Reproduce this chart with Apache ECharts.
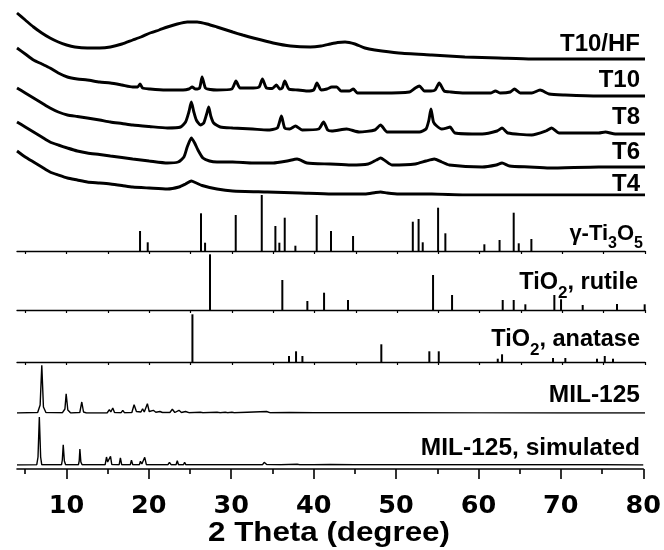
<!DOCTYPE html>
<html><head><meta charset="utf-8">
<script src="https://cdn.jsdelivr.net/npm/echarts@6/dist/echarts.min.js"></script>
<style>html,body{margin:0;padding:0;background:#fff}#c{width:664px;height:550px}</style>
</head><body><div id="c"></div>
<script>
// ---------- axis ----------
const xMin = 4, xMax = 80;
const xMajorTicks = [10, 20, 30, 40, 50, 60, 70, 80];
const xMinorTicks = [5, 15, 25, 35, 45, 55, 65, 75];
const xPanelTicks = [5, 10, 15, 20, 25, 30, 35, 40, 45, 50, 55, 60, 65, 70, 75, 80];
const xAxisTitle = '2 Theta (degree)';

// ---------- measured patterns (2θ, relative intensity above own baseline) ----------
const sampleNames = ['T10/HF', 'T10', 'T8', 'T6', 'T4'];
const stackOffsets = [136, 99, 61, 28, 0];

const T10HF = [[4,46],[5,39],[6,32],[7,26],[8,21],[9,17],[10,14],[11,12],[12.5,11],[14,11],[15.3,12],[16.7,15],[18,19],[19,22],[20.1,26],[21.2,29],[22.2,32],[23.4,35],[24.6,37],[25.8,37],[27,35],[28.2,32],[30.1,27],[31.3,24],[32.6,21],[35,16],[37.1,13],[39.5,12],[40.8,13],[41.9,15],[42.8,16.5],[43.7,17],[44.9,15],[46.1,11],[47.3,9],[50.2,6],[54.2,4],[58.2,2],[62.3,1],[66.3,0],[80,0]];

const T10 = [[4,48],[5,42],[6,36],[7,32],[8,28],[9,23],[10.1,19],[11.3,17],[12.5,16],[14,14],[15.3,13],[16.7,11],[18,9],[18.6,9],[18.9,12],[19.2,8],[20.1,7],[22,6],[24.1,6],[24.8,7],[25.2,9],[25.6,7],[26.1,8],[26.4,19],[26.8,8],[27.4,6.5],[28.2,6],[30.0,7],[30.5,15],[31.0,8],[32.6,8],[33.3,9],[33.7,17],[34.2,8],[34.9,7.5],[35.4,11],[35.8,7],[36.1,8],[36.4,15],[36.9,7],[38,6],[39.1,5],[39.9,6],[40.3,13],[40.8,6],[41.5,7],[42.1,9],[42.7,9],[43.2,5],[44.2,5],[44.7,7],[45.2,3],[48.2,3],[51.5,4],[52.2,8],[52.7,10],[53.3,5],[54.1,5],[54.6,6],[55.1,13],[55.7,5],[56.5,4],[58.2,3],[61.3,3],[61.9,5],[62.5,3],[63.7,4],[64.2,7],[64.9,3],[66.3,3],[67.3,6],[68.4,2],[70.3,1],[74.4,0],[80,0]];

const T8 = [[4,46],[5,41],[6,36],[7,31],[8,26],[9,22],[10.1,19],[11.3,17.5],[12.5,16],[14,14],[15.3,12],[16.7,10.5],[18,9],[20,7.5],[22.2,6],[23.8,7],[24.4,12],[24.8,22],[25.1,32],[25.4,22],[25.7,14],[26.2,9],[26.6,11],[26.95,20],[27.2,27],[27.45,18],[27.8,11],[28.6,7],[30.1,6],[32.5,5],[34.3,4],[35.5,6],[36.0,18],[36.4,6],[37.0,5],[37.7,8],[38.5,4],[40.5,5],[41.1,12],[41.6,4],[42.1,3],[43.9,5],[45.4,2],[47.3,4],[48.0,9],[48.8,2],[52.7,2],[53.5,5],[53.85,14],[54.1,25],[54.4,12],[54.8,8],[55.4,5],[56.0,6],[56.4,7],[57.0,1],[60.3,0],[62.1,3],[62.7,6],[63.4,1],[66.3,-1],[68.0,3],[68.7,6],[69.6,1],[74.4,1],[75.2,2],[76.4,0],[80,0]];

const T6 = [[4,45],[5,40],[6,35],[7,30],[8,25],[9,22],[10.1,19],[11.3,16],[12.5,14],[14,12.5],[15.3,11],[16.7,9.5],[18,8],[20,6],[22.2,4],[23.5,5],[24.2,10],[24.6,20],[25.1,29],[25.5,24],[25.9,17],[26.5,9],[27.3,6],[28.2,5],[30.1,5],[32.6,4],[35.0,4],[36.7,6],[37.9,8],[39.1,4],[41.9,3],[44.4,2],[46.5,3],[47.5,7],[48.0,9],[48.6,6],[49.4,2],[52.2,3],[53.5,6],[54.5,8],[55.4,5],[56.3,2],[60.3,0],[62,2],[62.7,4],[63.6,1],[66,0],[68.4,-1],[74.4,0],[80,0]];

const T4 = [[4,44],[5,38],[6,33],[7,28],[8,23],[9,20],[10.1,17],[11.3,15],[12.5,13],[14,12],[15.3,11],[16.7,9.5],[18,8],[20,7],[22.2,6],[23.6,8],[24.4,11],[25.1,14],[25.7,12],[26.4,9.5],[28.2,6],[30.1,4],[34.3,3],[38.3,2],[42.1,1],[46.1,1],[47.4,2.5],[48.0,3],[48.8,2],[50.2,1],[54.2,1],[58.2,0],[80,0]];

// ---------- reference stick patterns ----------
const gammaPos = [18.89,19.82,26.27,26.76,30.47,33.62,35.27,35.75,36.40,37.69,40.27,42.0,44.67,51.9,52.6,53.1,54.96,55.84,60.56,62.4,64.11,64.72,66.25];
const gammaInt = [20,8.7,37.7,8.3,36,56,25,8.3,33.3,5.3,36,20,15,29.3,32,8.7,43.3,17.7,6.7,11,38.3,7.7,12];

const rutilePos = [27.36,36.11,39.14,41.16,44.06,54.35,56.65,62.78,64.11,65.52,69.03,69.84,72.46,76.61,79.96];
const rutileInt = [55.7,30,9,17.3,10,35,15,10,10,5.7,15,10.7,5,6,5.7];

const anatasePos = [25.23,36.92,37.77,38.54,48.09,53.9,55.04,62.18,62.70,68.87,70.36,74.19,75.13,76.13];
const anataseInt = [47.7,6,10.7,6,17.7,10.7,10.7,3.3,7.7,4,4,3.3,6,3.3];

// ---------- MIL-125 patterns ----------
const MIL125 = [[4,0],[6.5,0.5],[6.8,8],[7.0,47.7],[7.2,6],[7.5,0.5],[9.5,0.3],[9.8,4],[9.95,19.3],[10.15,3],[10.5,0],[11.6,0.5],[11.84,11],[12.05,1],[12.4,0],[14.9,0],[15.18,3.3],[15.35,1],[15.59,5],[15.8,0.5],[16.6,0.3],[16.8,2.7],[17.0,0.3],[17.9,0.5],[18.17,8.3],[18.45,1.5],[19.0,1],[19.2,4.3],[19.4,1],[19.78,9.3],[20.0,1.5],[20.5,2.7],[20.8,0.8],[21.3,1.5],[21.6,0.5],[22.5,0.5],[22.8,3.7],[23.1,0.5],[23.6,2.7],[23.9,0.5],[24.4,1.5],[24.8,0.3],[26.2,0.8],[26.5,0.2],[28.2,0.8],[28.6,0.2],[29.2,0.8],[29.5,0.2],[30,0.8],[30.3,0.2],[34.2,1.5],[34.6,0.3],[37,0.5],[40,0.3],[45,0.4],[50,0.2],[60,0.1],[70,0],[80,0]];

const MIL125sim = [[4,0],[6.4,0.3],[6.55,8],[6.71,48],[6.87,8],[7.0,0.3],[9.4,0.2],[9.5,5],[9.61,20.3],[9.75,4],[9.9,0.2],[11.45,0.2],[11.55,4],[11.63,16],[11.75,3],[11.9,0.2],[14.7,0.3],[14.86,8],[15.0,3],[15.2,3],[15.35,8.7],[15.5,0.5],[16.4,0.3],[16.55,7],[16.7,0.3],[17.75,0.3],[17.89,4.7],[18.05,0.3],[18.85,0.3],[18.98,3.7],[19.15,1],[19.35,1],[19.5,7.7],[19.7,0.3],[20.8,0.2],[20.9,2],[21.05,0.2],[22.3,0.2],[22.5,2.7],[22.7,0.3],[23.3,0.3],[23.45,4.3],[23.6,0.3],[24.2,0.2],[24.34,2.7],[24.5,0.2],[26.0,0.2],[26.15,2],[26.3,0.2],[27.8,0.2],[28.0,1.2],[28.2,0.2],[29.7,0.2],[29.85,1.2],[30.0,0.2],[31.5,0.2],[31.7,1],[31.9,0.2],[33.8,0.3],[34.0,2.7],[34.3,0.5],[36,0.2],[38,0.8],[38.3,0.2],[40,0.3],[42,0.5],[45,0.2],[50,0.3],[55,0.2],[60,0.3],[65,0.2],[70,0.2],[75,0.2],[80,0]];

// ---------- labels ----------
const stickLabels = ['{m|γ-Ti}{s|3}{m|O}{s|5}', '{m|TiO}{s|2}{m|, rutile}', '{m|TiO}{s|2}{m|, anatase}'];
const milLabels = ['MIL-125', 'MIL-125, simulated'];

// ---------- build ----------
const FONT = '"Liberation Sans", Arial, Helvetica, sans-serif';
const TICKFONT = '"DejaVu Sans", "Liberation Sans", sans-serif';
const L = 17, W = 628;
const samples = [T10HF, T10, T8, T6, T4];
const stickSets = [[gammaPos, gammaInt], [rutilePos, rutileInt], [anatasePos, anataseInt]];

const grids = [
  {left: L, width: W, top: 10, height: 185},
  {left: L, width: W, top: 191, height: 60},
  {left: L, width: W, top: 250, height: 60},
  {left: L, width: W, top: 302, height: 60},
  {left: L, width: W, top: 353, height: 60},
  {left: L, width: W, top: 405, height: 60}
];
const yMaxes = [185, 60, 60, 60, 60, 60];

const hiddenX = i => ({type: 'value', gridIndex: i, min: xMin, max: xMax, show: false});
const panelX = i => ({
  type: 'value', gridIndex: i, min: xMin, max: xMax, position: 'bottom',
  axisLine: {show: true, onZero: false, lineStyle: {color: '#000', width: 1.3}},
  axisTick: {show: true, customValues: xPanelTicks, length: 3, lineStyle: {color: '#000', width: 1.2}},
  axisLabel: {show: false}, splitLine: {show: false}
});
const xAxes = [
  hiddenX(0), panelX(1), panelX(2), panelX(3), hiddenX(4),
  {
    type: 'value', gridIndex: 5, min: xMin, max: xMax, position: 'bottom', offset: 4,
    axisLine: {show: true, onZero: false, lineStyle: {color: '#000', width: 1.6}},
    axisTick: {show: true, customValues: xMajorTicks, length: 10, lineStyle: {color: '#000', width: 1.6}},
    axisLabel: {show: true, customValues: xMajorTicks, margin: 24, color: '#000',
      fontFamily: TICKFONT, fontSize: 25.5, fontWeight: 'bold'},
    splitLine: {show: false}
  },
  {
    type: 'value', gridIndex: 5, min: xMin, max: xMax, position: 'bottom', offset: 4,
    axisLine: {show: false, onZero: false},
    axisTick: {show: true, customValues: xMinorTicks, length: 5, lineStyle: {color: '#000', width: 1.6}},
    axisLabel: {show: false}, splitLine: {show: false}
  }
];
const yAxes = grids.map((g, i) => ({type: 'value', gridIndex: i, min: 0, max: yMaxes[i], show: false}));

const series = [];
samples.forEach((d, i) => {
  series.push({
    name: sampleNames[i], type: 'line', xAxisIndex: 0, yAxisIndex: 0,
    data: d.map(p => [p[0], p[1] + stackOffsets[i]]),
    symbol: 'none', smooth: 0.2, silent: true,
    lineStyle: {color: '#000', width: 2.9}
  });
});
stickSets.forEach((s, k) => {
  series.push({
    type: 'bar', xAxisIndex: k + 1, yAxisIndex: k + 1,
    data: s[0].map((x, j) => [x, s[1][j]]),
    barWidth: 2, itemStyle: {color: '#000'}, silent: true
  });
});
[MIL125, MIL125sim].forEach((d, k) => {
  series.push({
    type: 'line', xAxisIndex: k + 4, yAxisIndex: k + 4, data: d,
    symbol: 'none', silent: true, lineStyle: {color: '#000', width: 1.4}
  });
});

const labelY = [44, 80.5, 117, 152, 184];
const graphic = [];
sampleNames.forEach((n, i) => graphic.push({
  type: 'text', x: 640, y: labelY[i],
  style: {text: n, fill: '#000', fontFamily: FONT, fontSize: 24, fontWeight: 'bold', align: 'right', verticalAlign: 'middle'}
}));
const stickRich = [
  {m: 22, s: 16, pt: 13, y: 230.5 + 3.5, x: 643},
  {m: 23.5, s: 17, pt: 14.5, y: 278 + 4.3, x: 638},
  {m: 23.5, s: 17, pt: 14.5, y: 335 + 4.3, x: 640}
];
stickLabels.forEach((t, i) => {
  const r = stickRich[i];
  graphic.push({
    type: 'text', x: r.x, y: r.y,
    style: {
      text: t, fill: '#000', align: 'right', verticalAlign: 'middle',
      fontFamily: FONT, fontSize: r.m, fontWeight: 'bold',
      rich: {
        m: {fontFamily: FONT, fontSize: r.m, fontWeight: 'bold', lineHeight: r.m, verticalAlign: 'top', fill: '#000'},
        s: {fontFamily: FONT, fontSize: r.s, fontWeight: 'bold', lineHeight: r.s, verticalAlign: 'top', padding: [r.pt, 0, 0, 0], fill: '#000'}
      }
    }
  });
});
const milY = [395, 448];
milLabels.forEach((t, i) => graphic.push({
  type: 'text', x: 640, y: milY[i],
  style: {text: t, fill: '#000', fontFamily: FONT, fontSize: 24.5, fontWeight: 'bold', align: 'right', verticalAlign: 'middle'}
}));
graphic.push({
  type: 'text', x: 329, y: 534, scaleX: 1.16,
  style: {text: xAxisTitle, fill: '#000', fontFamily: FONT, fontSize: 27, fontWeight: 'bold', align: 'center', verticalAlign: 'middle'}
});

const chart = echarts.init(document.getElementById('c'), null, {renderer: 'canvas'});
chart.setOption({
  animation: false,
  backgroundColor: '#fff',
  grid: grids, xAxis: xAxes, yAxis: yAxes, series: series, graphic: graphic
});
</script></body></html>
